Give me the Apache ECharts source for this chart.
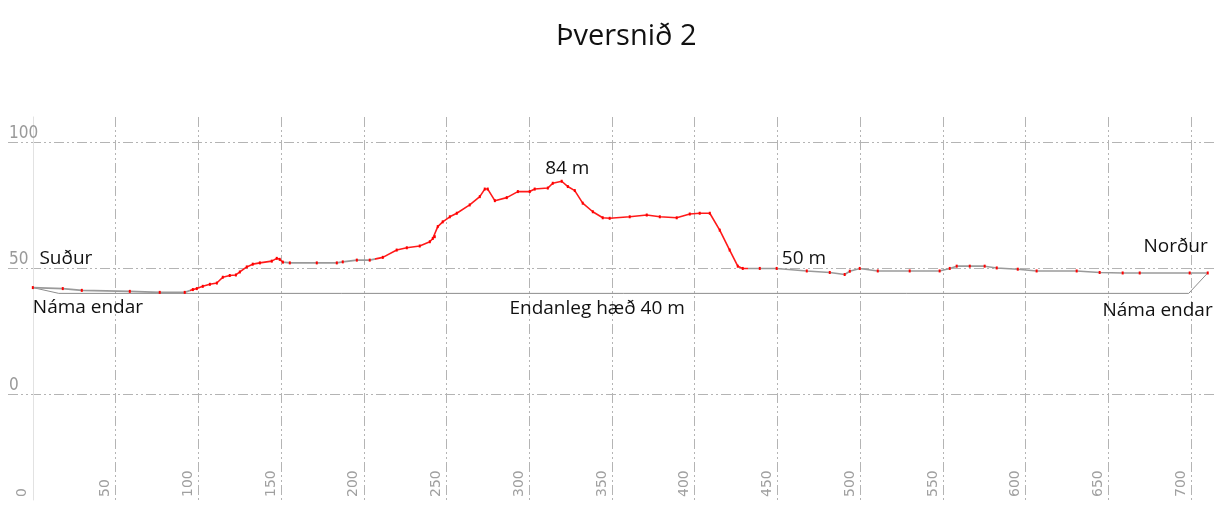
<!DOCTYPE html>
<html>
<head>
<meta charset="utf-8">
<script src="https://cdn.jsdelivr.net/npm/echarts@6/dist/echarts.min.js"></script>
<style>
  html, body { margin: 0; background: #fff; }
  #main { width: 1215px; height: 515px; }
</style>
</head>
<body>
<div id="main"></div>
<script>
// landlína (fjarlægð í m, hæð í m)
const distances = [0, 18.1, 29.6, 58.6, 76.7, 91.8, 96.7, 99.1, 102.7, 107, 111.2, 114.8, 119, 122.7, 125.1,
  129.3, 132.9, 137.2, 144.4, 147.4, 149.2, 151.1, 155.3, 171.6, 183.7, 187.3, 195.8, 203.6, 211.5, 219.9,
  226, 233.8, 239.9, 241.7, 242.9, 244.7, 247.7, 252, 256.2, 264, 270.1, 273.1, 274.9, 279.2, 286.4, 293.1,
  300.3, 303.3, 311.2, 314.2, 319.6, 323.3, 327.5, 332.3, 338.4, 344.4, 348.6, 360.7, 371, 378.9, 389.1,
  397, 403, 409.1, 415.1, 421.1, 426, 429, 439.3, 449.5, 467.7, 481.6, 490.6, 493.7, 499.7, 510.6, 529.9,
  548, 554.1, 558.3, 566.2, 575.2, 582.5, 595.2, 606.6, 630.8, 644.7, 658.6, 668.9, 699.1, 710];
const heights = [42.3, 41.9, 41.2, 40.8, 40.4, 40.4, 41.5, 41.9, 42.8, 43.6, 44.1, 46.4, 47.1, 47.3, 48.5,
  50.5, 51.6, 52.1, 52.8, 53.9, 53.5, 52.4, 52.1, 52.1, 52.1, 52.5, 53.2, 53.2, 54.3, 57.2,
  58.1, 58.8, 60.5, 61.8, 62.5, 66.5, 68.4, 70.4, 71.8, 75.1, 78.4, 81.4, 81.4, 76.8, 78, 80.4,
  80.4, 81.4, 81.8, 83.7, 84.5, 82.4, 80.8, 75.8, 72.4, 70, 69.8, 70.4, 71.1, 70.4, 70,
  71.5, 71.8, 71.8, 65.1, 57.2, 50.8, 49.9, 49.9, 49.9, 48.9, 48.3, 47.5, 48.8, 49.9, 48.9, 48.9,
  48.9, 49.9, 50.8, 50.8, 50.8, 50.1, 49.6, 48.9, 48.9, 48.3, 48.1, 48.1, 48.1, 48.1];

// náma, endanleg hæð
const pitX = [0, 15.7, 698.5, 710];
const pitY = [42.3, 40, 40, 48.1];

// merkingar
const noteText = ['Suður', 'Náma endar', '84 m', 'Endanleg hæð 40 m', '50 m', 'Norður', 'Náma endar'];
const noteX = [4, 0, 323, 341, 466, 710, 713];
const noteY = [54, 34.2, 89.7, 33.8, 54, 58.7, 33.2];
const noteAlign = ['left', 'left', 'center', 'center', 'center', 'right', 'right'];

const xTicks = [0, 50, 100, 150, 200, 250, 300, 350, 400, 450, 500, 550, 600, 650, 700];
const yTicks = [0, 50, 100];

const gridLine = { color: '#b4b4b4', width: 1, type: [10, 3, 2, 3, 2, 3] };
const profile = distances.map((d, i) => [d, heights[i]]);

const myChart = echarts.init(document.getElementById('main'));
myChart.setOption({
  animation: false,
  title: {
    text: 'Þversnið 2',
    left: 551,
    top: 17,
    textStyle: { fontFamily: 'Open Sans', fontSize: 29, fontWeight: 'normal', color: '#111' }
  },
  grid: { left: 8, right: -1, top: 117, bottom: 15, outerBoundsMode: 'none' },
  xAxis: {
    type: 'value',
    min: -15,
    max: 715,
    axisLine: { show: false },
    axisTick: { show: false, customValues: xTicks },
    axisLabel: {
      customValues: xTicks,
      inside: true,
      rotate: 90,
      align: 'left',
      verticalAlign: 'bottom',
      margin: 3,
      padding: [0, 0, 3, 0],
      color: '#a0a0a0',
      fontFamily: 'DejaVu Sans',
      fontSize: 14
    },
    splitLine: { show: true, lineStyle: gridLine }
  },
  yAxis: {
    type: 'value',
    min: -42,
    max: 110,
    axisLine: { show: true, lineStyle: { color: '#e2e2e2' } },
    axisTick: { show: false, customValues: yTicks },
    axisLabel: {
      customValues: yTicks,
      inside: true,
      verticalAlign: 'bottom',
      margin: 1,
      color: '#999',
      fontFamily: "'Liberation Sans Narrow', 'DejaVu Sans Condensed', 'Liberation Sans', sans-serif",
      fontSize: 17
    },
    splitLine: { show: true, lineStyle: gridLine }
  },
  visualMap: {
    show: false,
    type: 'piecewise',
    seriesIndex: 0,
    dimension: 0,
    pieces: [
      { gte: 95, lte: 152, color: '#ff1a1a' },
      { gte: 207, lte: 432, color: '#ff1a1a' }
    ],
    outOfRange: { color: '#9a9a9a' }
  },
  series: [
    {
      type: 'line',
      data: profile,
      showSymbol: false,
      lineStyle: { width: 1.6 },
      z: 3
    },
    {
      type: 'line',
      data: pitX.map((d, i) => [d, pitY[i]]),
      showSymbol: false,
      lineStyle: { color: '#8c8c8c', width: 1 },
      z: 2
    },
    {
      type: 'scatter',
      data: profile,
      symbol: 'rect',
      symbolSize: [2, 3],
      itemStyle: { color: '#ff0000', opacity: 1 },
      z: 4
    },
    {
      type: 'scatter',
      symbolSize: 0,
      itemStyle: { opacity: 1 },
      data: noteText.map((t, i) => ({
        name: t,
        value: [noteX[i], noteY[i]],
        label: { align: noteAlign[i] }
      })),
      label: {
        show: true,
        position: 'inside',
        formatter: '{b}',
        color: '#111',
        opacity: 1,
        fontFamily: 'Open Sans',
        fontSize: 19
      },
      z: 5
    }
  ]
});
window.onresize = function () {
  myChart.resize();
};
</script>
</body>
</html>
